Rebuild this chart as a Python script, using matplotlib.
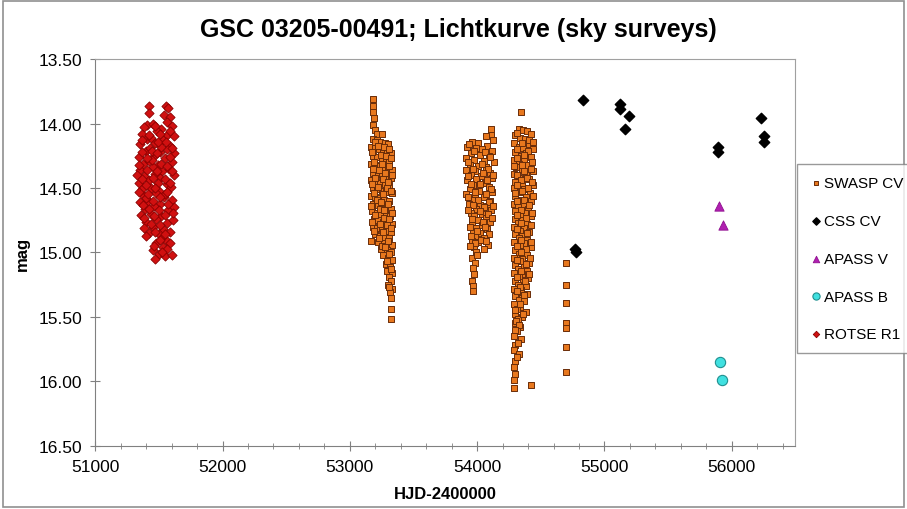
import matplotlib
matplotlib.use('Agg')
import matplotlib.pyplot as plt

plt.rcParams['font.family'] = ['Liberation Sans', 'DejaVu Sans']

# ROTSE R1 (1999/2000)
rotse_hjd = [51420, 51425, 51555, 51575, 51540, 51590, 51565, 51410,
             51380, 51455, 51520, 51600, 51365, 51485, 51560, 51405,
             51440, 51530, 51615, 51350, 51470, 51585, 51395, 51430,
             51510, 51560, 51620, 51340, 51460, 51545, 51375, 51420,
             51495, 51600, 51355, 51450, 51525, 51580, 51385, 51470,
             51505, 51615, 51345, 51425, 51560, 51365, 51440, 51500,
             51595, 51380, 51475, 51540, 51350, 51415, 51510, 51600,
             51390, 51460, 51570, 51360, 51435, 51520, 51400, 51480,
             51560, 51610, 51380, 51450, 51535, 51420, 51500, 51585,
             51525, 51560, 51480, 51530, 51450, 51500, 51545, 51470,
             51600, 51490, 51330, 51550, 51620, 51445, 51395, 51515,
             51470, 51505, 51585, 51420, 51370, 51490, 51555, 51600,
             51445, 51365, 51485, 51590, 51405, 51520, 51345, 51560,
             51410, 51485, 51605, 51365, 51455, 51545, 51400, 51585,
             51340, 51470, 51560, 51415, 51505, 51375, 51450, 51570,
             51425, 51500, 51610, 51380, 51465, 51550, 51435, 51510,
             51470, 51545, 51400, 51510, 51585, 51465, 51560, 51525]
rotse_mag = [13.86, 13.92, 13.86, 13.88, 13.93, 13.95, 13.99, 14.01,
             14.03, 14.00, 14.04, 14.02, 14.08, 14.06, 14.09, 14.12,
             14.11, 14.13, 14.10, 14.16, 14.15, 14.17, 14.21, 14.19,
             14.22, 14.20, 14.23, 14.26, 14.25, 14.27, 14.31, 14.29,
             14.32, 14.30, 14.36, 14.34, 14.37, 14.35, 14.41, 14.39,
             14.42, 14.40, 14.46, 14.44, 14.47, 14.51, 14.50, 14.52,
             14.49, 14.56, 14.54, 14.57, 14.61, 14.60, 14.62, 14.59,
             14.66, 14.64, 14.67, 14.71, 14.70, 14.72, 14.76, 14.74,
             14.77, 14.75, 14.81, 14.80, 14.82, 14.85, 14.86, 14.84,
             14.89, 14.91, 14.93, 14.96, 14.98, 15.01, 15.03, 15.05,
             15.02, 14.46, 14.40, 14.55, 14.65, 14.28, 14.58, 14.18,
             14.02, 14.08, 14.06, 14.09, 14.13, 14.14, 14.14, 14.19,
             14.21, 14.22, 14.23, 14.26, 14.27, 14.31, 14.32, 14.33,
             14.36, 14.37, 14.37, 14.43, 14.42, 14.43, 14.48, 14.46,
             14.53, 14.50, 14.53, 14.55, 14.57, 14.63, 14.60, 14.62,
             14.66, 14.67, 14.69, 14.73, 14.72, 14.71, 14.78, 14.79,
             14.84, 14.86, 14.87, 14.90, 14.93, 14.95, 14.97, 15.00]

# SuperWASP seasons
swasp1_hjd = [53185, 53185, 53185, 53190, 53185, 53195, 53215, 53250,
              53180, 53210, 53240, 53275, 53300, 53170, 53200, 53230,
              53260, 53290, 53320, 53180, 53215, 53250, 53280, 53310,
              53170, 53200, 53235, 53265, 53300, 53330, 53185, 53220,
              53255, 53290, 53320, 53170, 53205, 53240, 53275, 53310,
              53180, 53215, 53250, 53285, 53330, 53170, 53200, 53235,
              53270, 53305, 53185, 53220, 53255, 53290, 53325, 53175,
              53210, 53245, 53280, 53315, 53190, 53225, 53260, 53300,
              53330, 53180, 53215, 53250, 53285, 53320, 53200, 53240,
              53275, 53310, 53170, 53225, 53265, 53330, 53245, 53290,
              53320, 53260, 53300, 53330, 53280, 53315, 53295, 53330,
              53305, 53320, 53300, 53330, 53315, 53325, 53320, 53320,
              53195, 53225, 53265, 53305, 53175, 53245, 53285, 53325,
              53190, 53255, 53310, 53180, 53230, 53275, 53330, 53195,
              53260, 53300, 53175, 53225, 53290, 53320, 53190, 53260,
              53210, 53245, 53300, 53170, 53235, 53270, 53330, 53195,
              53265, 53305, 53175, 53240, 53295, 53325, 53190, 53260,
              53230, 53300, 53250, 53275, 53310, 53290, 53325, 53310]
swasp1_mag = [13.81, 13.86, 13.91, 13.96, 14.01, 14.05, 14.08, 14.08,
              14.12, 14.13, 14.14, 14.15, 14.16, 14.18, 14.19, 14.20,
              14.21, 14.22, 14.23, 14.25, 14.26, 14.27, 14.28, 14.29,
              14.31, 14.32, 14.33, 14.34, 14.35, 14.36, 14.38, 14.39,
              14.40, 14.41, 14.42, 14.44, 14.45, 14.46, 14.47, 14.48,
              14.50, 14.51, 14.52, 14.53, 14.54, 14.56, 14.57, 14.58,
              14.59, 14.60, 14.62, 14.63, 14.64, 14.65, 14.66, 14.68,
              14.69, 14.70, 14.71, 14.72, 14.74, 14.75, 14.76, 14.77,
              14.78, 14.80, 14.81, 14.82, 14.83, 14.84, 14.86, 14.87,
              14.88, 14.89, 14.91, 14.92, 14.93, 14.94, 14.97, 14.98,
              15.00, 15.02, 15.04, 15.06, 15.09, 15.11, 15.14, 15.16,
              15.19, 15.22, 15.25, 15.28, 15.31, 15.35, 15.44, 15.52,
              14.14, 14.17, 14.18, 14.20, 14.22, 14.24, 14.25, 14.27,
              14.30, 14.31, 14.33, 14.35, 14.36, 14.38, 14.40, 14.42,
              14.43, 14.45, 14.47, 14.49, 14.50, 14.52, 14.54, 14.55,
              14.59, 14.61, 14.62, 14.64, 14.66, 14.67, 14.69, 14.71,
              14.73, 14.74, 14.76, 14.78, 14.79, 14.81, 14.83, 14.84,
              14.89, 14.91, 14.95, 14.96, 15.01, 15.07, 15.13, 15.27]

swasp2_hjd = [54105, 54110, 54070, 54125, 53960, 54010, 54080, 53920,
              53990, 54040, 54120, 53950, 54020, 54090, 53915, 53975,
              54050, 54130, 53940, 54005, 54070, 53915, 53985, 54100,
              53955, 54030, 54115, 53920, 54000, 54060, 53970, 54090,
              53940, 54015, 54120, 53915, 53985, 54050, 53960, 54100,
              53935, 54025, 54080, 53990, 54110, 53950, 54040, 53975,
              54070, 54005, 54100, 53960, 54035, 53990, 54080, 53965,
              54020, 54095, 53980, 54050, 53960, 54010, 54085, 53975,
              53990, 53960, 53985, 53965, 53975, 53960, 53965, 53970,
              53935, 53975, 54065, 54100, 53930, 54035, 54085, 53965,
              54045, 54125, 53930, 53990, 54080, 54025, 53950, 54110,
              53980, 54070, 53930, 54010, 54090, 53965, 54055, 54125,
              53930, 54020, 54085, 53960, 54045, 54115, 53945, 54065,
              54000, 53950, 54030, 54070, 53985, 53945, 54050, 53995]
swasp2_mag = [14.04, 14.09, 14.10, 14.13, 14.14, 14.15, 14.17, 14.18,
              14.19, 14.20, 14.21, 14.23, 14.24, 14.25, 14.27, 14.28,
              14.29, 14.30, 14.32, 14.33, 14.34, 14.36, 14.37, 14.38,
              14.40, 14.41, 14.42, 14.44, 14.45, 14.46, 14.48, 14.49,
              14.51, 14.52, 14.53, 14.55, 14.56, 14.57, 14.59, 14.60,
              14.62, 14.63, 14.64, 14.66, 14.67, 14.69, 14.70, 14.72,
              14.73, 14.75, 14.76, 14.78, 14.79, 14.81, 14.82, 14.84,
              14.85, 14.86, 14.88, 14.89, 14.91, 14.92, 14.94, 14.96,
              15.00, 15.04, 15.08, 15.12, 15.17, 15.22, 15.26, 15.30,
              14.16, 14.21, 14.22, 14.26, 14.30, 14.31, 14.35, 14.35,
              14.38, 14.40, 14.41, 14.43, 14.44, 14.47, 14.47, 14.51,
              14.53, 14.55, 14.57, 14.59, 14.61, 14.63, 14.65, 14.64,
              14.67, 14.68, 14.70, 14.74, 14.76, 14.73, 14.80, 14.80,
              14.83, 14.87, 14.90, 14.91, 14.93, 14.95, 14.97, 15.02]

swasp3_hjd = [54345, 54330, 54360, 54390, 54300, 54420, 54340, 54375,
              54290, 54410, 54325, 54360, 54440, 54300, 54385, 54345,
              54420, 54290, 54370, 54330, 54400, 54305, 54355, 54435,
              54290, 54380, 54325, 54410, 54300, 54355, 54440, 54290,
              54370, 54335, 54415, 54300, 54385, 54345, 54425, 54290,
              54360, 54320, 54400, 54295, 54375, 54340, 54420, 54300,
              54355, 54320, 54390, 54290, 54370, 54335, 54410, 54300,
              54355, 54325, 54395, 54290, 54370, 54340, 54420, 54300,
              54360, 54325, 54390, 54290, 54355, 54335, 54410, 54300,
              54365, 54320, 54390, 54290, 54350, 54330, 54400, 54300,
              54360, 54320, 54380, 54290, 54345, 54315, 54395, 54300,
              54355, 54325, 54370, 54290, 54340, 54310, 54385, 54300,
              54350, 54320, 54295, 54340, 54310, 54290, 54345, 54300,
              54290, 54330, 54300, 54290, 54300, 54290, 54290, 54420,
              54310, 54405, 54350, 54435, 54315, 54400, 54370, 54310,
              54430, 54350, 54290, 54420, 54370, 54310, 54395, 54345,
              54430, 54315, 54400, 54355, 54295, 54440, 54370, 54315,
              54405, 54345, 54430, 54310, 54385, 54345, 54420, 54310,
              54390, 54345, 54420, 54310, 54380, 54345, 54415, 54310,
              54380, 54345, 54405, 54310, 54375, 54340, 54310, 54370,
              54335, 54300, 54360, 54305, 54330, 54300, 54320, 54310]
swasp3_mag = [13.91, 14.04, 14.05, 14.06, 14.09, 14.08, 14.11, 14.12,
              14.15, 14.16, 14.18, 14.19, 14.20, 14.22, 14.23, 14.25,
              14.26, 14.28, 14.29, 14.31, 14.32, 14.34, 14.35, 14.37,
              14.39, 14.40, 14.42, 14.43, 14.45, 14.46, 14.48, 14.50,
              14.51, 14.53, 14.54, 14.56, 14.57, 14.59, 14.60, 14.62,
              14.63, 14.65, 14.66, 14.68, 14.69, 14.71, 14.72, 14.74,
              14.75, 14.77, 14.78, 14.80, 14.81, 14.83, 14.84, 14.86,
              14.87, 14.89, 14.90, 14.92, 14.93, 14.95, 14.96, 14.98,
              14.99, 15.01, 15.02, 15.04, 15.05, 15.07, 15.08, 15.10,
              15.11, 15.13, 15.14, 15.16, 15.17, 15.19, 15.20, 15.22,
              15.23, 15.25, 15.26, 15.28, 15.29, 15.31, 15.32, 15.34,
              15.35, 15.37, 15.38, 15.40, 15.42, 15.44, 15.46, 15.48,
              15.50, 15.52, 15.55, 15.58, 15.61, 15.65, 15.67, 15.72,
              15.76, 15.79, 15.84, 15.89, 15.94, 15.99, 16.05, 16.03,
              14.07, 14.13, 14.15, 14.14, 14.20, 14.21, 14.24, 14.27,
              14.30, 14.32, 14.33, 14.35, 14.37, 14.40, 14.42, 14.44,
              14.45, 14.48, 14.50, 14.52, 14.54, 14.56, 14.59, 14.60,
              14.63, 14.67, 14.69, 14.71, 14.73, 14.77, 14.79, 14.82,
              14.85, 14.90, 14.92, 14.95, 14.97, 15.00, 15.04, 15.06,
              15.09, 15.14, 15.17, 15.19, 15.22, 15.27, 15.30, 15.33,
              15.40, 15.45, 15.48, 15.53, 15.56, 15.60, 15.70, 15.81]

swasp4_hjd = [54700, 54700, 54700, 54700, 54700, 54700, 54700]
swasp4_mag = [15.08, 15.25, 15.39, 15.55, 15.59, 15.73, 15.93]

# Catalina
css_hjd = [54770, 54775, 54830, 55125, 55125, 55190, 55160, 55890, 55890, 56230, 56250, 56250]
css_mag = [14.97, 15.00, 13.82, 13.85, 13.89, 13.94, 14.04, 14.18, 14.22, 13.96, 14.10, 14.14]

# APASS
apass_v_hjd = [55900, 55930]
apass_v_mag = [14.64, 14.79]
apass_b_hjd = [55910, 55920]
apass_b_mag = [15.85, 15.99]

swasp_hjd = swasp1_hjd + swasp2_hjd + swasp3_hjd + swasp4_hjd
swasp_mag = swasp1_mag + swasp2_mag + swasp3_mag + swasp4_mag

fig = plt.figure(figsize=(9.07, 5.10), dpi=100)
ax = fig.add_axes([0.105, 0.124, 0.772, 0.758])

ax.scatter(rotse_hjd, rotse_mag, marker='D', s=22, c='#d01010', edgecolors='#8a0000', linewidths=0.6, label='ROTSE R1', zorder=3)
ax.scatter(swasp_hjd, swasp_mag, marker='s', s=24, c='#e8781e', edgecolors='#6a2c08', linewidths=0.7, label='SWASP CV', zorder=3)
ax.scatter(css_hjd, css_mag, marker='D', s=28, c='black', edgecolors='black', label='CSS CV', zorder=4)
ax.scatter(apass_v_hjd, apass_v_mag, marker='^', s=45, c='#b020b0', edgecolors='#901090', linewidths=0.6, label='APASS V', zorder=4)
ax.scatter(apass_b_hjd, apass_b_mag, marker='o', s=55, c='#40e0e0', edgecolors='#208f8f', linewidths=0.8, label='APASS B', zorder=4)

ax.set_xlim(51000, 56500)
ax.set_ylim(16.5, 13.5)
ax.set_xticks([51000, 52000, 53000, 54000, 55000, 56000])
ax.set_xticks(range(51000, 56600, 200), minor=True)
ax.set_yticks([13.5, 14.0, 14.5, 15.0, 15.5, 16.0, 16.5])
ax.set_yticklabels(['%.2f' % v for v in [13.5, 14.0, 14.5, 15.0, 15.5, 16.0, 16.5]])
ax.tick_params(axis='both', which='major', direction='inout', length=7, color='#808080', labelsize=12.5, pad=6)
ax.tick_params(axis='x', which='minor', direction='inout', length=4, color='#808080')
for sp in ax.spines.values():
    sp.set_color('#a0a0a0')
ax.spines['left'].set_color('#808080')
ax.spines['bottom'].set_color('#808080')

ax.set_xlabel('HJD-2400000', fontsize=12, fontweight='bold', labelpad=9)
ax.set_ylabel('mag', fontsize=12, fontweight='bold', labelpad=6)
fig.suptitle('GSC 03205-00491; Lichtkurve (sky surveys)', fontsize=18, fontweight='bold', x=0.505, y=0.965)

h, l = ax.get_legend_handles_labels()
order = [1, 2, 3, 4, 0]
leg = fig.legend([h[i] for i in order], [l[i] for i in order], loc='upper left',
                 bbox_to_anchor=(0.879, 0.676), fontsize=11, frameon=True, fancybox=False,
                 edgecolor='#808080', labelspacing=1.55, handletextpad=0.05, handlelength=0.9,
                 borderpad=0.8, borderaxespad=0, markerscale=0.7)
leg.get_frame().set_linewidth(1.0)

border = plt.Rectangle((0.003, 0.003), 0.994, 0.994, transform=fig.transFigure, fill=False, edgecolor='#909090', linewidth=1.2)
fig.patches.append(border)

fig.savefig('out.png', dpi=100)
